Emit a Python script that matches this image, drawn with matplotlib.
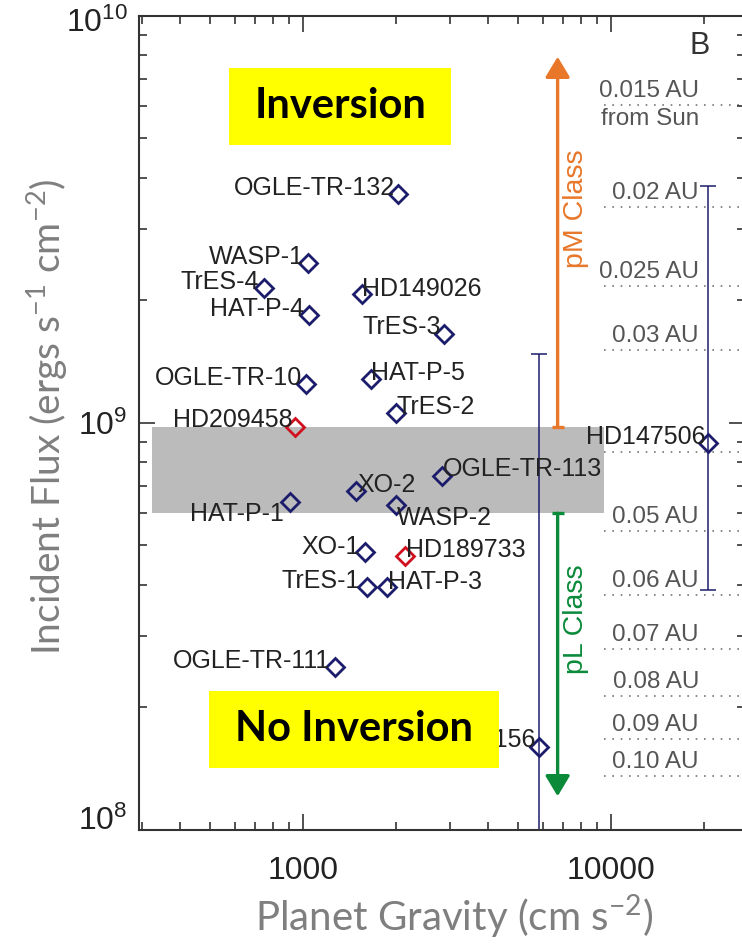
import matplotlib
matplotlib.use("Agg")
import matplotlib.pyplot as plt
import matplotlib.transforms as mtransforms
from matplotlib.patches import Rectangle, FancyArrowPatch, ArrowStyle
from matplotlib.ticker import FixedLocator, FixedFormatter, LogLocator, NullFormatter

# ---------------------------------------------------------------- data
names = ['OGLE-TR-132', 'WASP-1', 'TrES-4', 'HD149026', 'HAT-P-4', 'TrES-3',
         'OGLE-TR-10', 'HAT-P-5', 'TrES-2', 'HAT-P-1', 'XO-2', 'WASP-2',
         'OGLE-TR-113', 'XO-1', 'TrES-1', 'HAT-P-3', 'OGLE-TR-111',
         'HD17156', 'HD147506']
gravity = [2030, 1040, 745, 1560, 1050, 2860,
           1020, 1660, 2000, 910, 1490, 2010,
           2820, 1590, 1610, 1880, 1270,
           5850, 20700]
flux = [3.66e9, 2.47e9, 2.15e9, 2.08e9, 1.84e9, 1.65e9,
        1.25e9, 1.28e9, 1.06e9, 6.4e8, 6.8e8, 6.3e8,
        7.4e8, 4.83e8, 3.96e8, 3.96e8, 2.51e8,
        1.60e8, 8.95e8]

# planets highlighted in red
red_names = ['HD209458', 'HD189733']
red_gravity = [940, 2140]
red_flux = [9.76e8, 4.71e8]

# eccentric planets: flux range over the orbit
range_names = ['HD17156', 'HD147506']
range_gravity = [5850, 20700]
range_flux = [1.60e8, 8.95e8]
range_low = [8.0e7, 3.89e8]
range_high = [1.475e9, 3.83e9]

# incident flux at a given orbital distance from the Sun
au_text = ['0.015 AU', '0.02 AU', '0.025 AU', '0.03 AU', '', '0.05 AU',
           '0.06 AU', '0.07 AU', '0.08 AU', '0.09 AU', '0.10 AU']
au_flux = [6.03e9, 3.39e9, 2.17e9, 1.51e9, 8.5e8, 5.43e8,
           3.78e8, 2.78e8, 2.13e8, 1.67e8, 1.36e8]

# transition region between the classes
band_flux = [6.0e8, 9.76e8]
band_gravity = [323, 9490]

# class arrows: (flux at bar end, flux at arrow tip)
pm_flux = [9.76e8, 7.94e9]
pl_flux = [6.0e8, 1.21e8]
arrow_gravity = 6710

# ---------------------------------------------------------------- style
NAVY = '#1c1c6c'
RED = '#d0101e'
ORANGE = '#e8772a'
GREEN = '#0b8a3a'
LABEL = '#222222'
AXGRAY = '#7f7f7f'

plt.rcParams['font.family'] = ['Liberation Sans', 'DejaVu Sans']
plt.rcParams['mathtext.fontset'] = 'custom'
plt.rcParams['mathtext.rm'] = 'Liberation Sans'

# label placement: (alignment, dx px, dy px) relative to the marker centre
label_pos = {
    'OGLE-TR-132': ('right', -3, -1), 'WASP-1': ('right', -4, -1),
    'TrES-4': ('right', -5, -1), 'HD149026': ('left', 0, -2),
    'HAT-P-4': ('right', -5, -1), 'TrES-3': ('right', -3, 0),
    'OGLE-TR-10': ('right', -3, -1), 'HAT-P-5': ('left', 0, -1),
    'TrES-2': ('left', 1, -1), 'HAT-P-1': ('right', -6, -19),
    'XO-2': ('left', 1, -1), 'WASP-2': ('left', 1, -20),
    'OGLE-TR-113': ('left', 1, 0), 'XO-1': ('right', -5, -2),
    'TrES-1': ('right', -7, -1), 'HAT-P-3': ('left', 1, -2),
    'OGLE-TR-111': ('right', -5, -1), 'HD17156': ('right', -4, 0),
    'HD147506': ('right', -3, -1), 'HD209458': ('right', -2, 0),
    'HD189733': ('left', 1, -1),
}

fig = plt.figure(figsize=(7.42, 9.44), dpi=100)
ax = fig.add_axes([0.1869, 0.1208, 0.817, 0.8623])
ax.set_xscale('log')
ax.set_yscale('log')
ax.set_xlim(293, 27200)
ax.set_ylim(1e8, 1e10)

# transition band
ax.add_patch(Rectangle((band_gravity[0], band_flux[0]),
                       band_gravity[1] - band_gravity[0],
                       band_flux[1] - band_flux[0],
                       facecolor='#bbbbbb', edgecolor='none', zorder=1))

# orbital distance guide lines
for txt, f in zip(au_text, au_flux):
    ax.plot([9490, 40000], [f, f], color='#777777', lw=1.2,
            ls=(0, (1, 4)), zorder=1.5)
    if txt:
        ax.annotate(txt, (19300, f), xytext=(0, 3), textcoords='offset pixels',
                    ha='right', va='bottom', fontsize=17.5, color='#555555',
                    zorder=2)
ax.annotate('from Sun', (19300, au_flux[0]), xytext=(0, -3),
            textcoords='offset pixels', ha='right', va='top', fontsize=17.5,
            color='#555555', zorder=2)

# flux range of eccentric planets
ylo = [f - lo for f, lo in zip(range_flux, range_low)]
yhi = [hi - f for f, hi in zip(range_flux, range_high)]
ax.errorbar(range_gravity, range_flux, yerr=[ylo, yhi], fmt='none',
            ecolor=NAVY, elinewidth=1.1, capsize=6, capthick=1.1, zorder=2.5)

# planets
ax.plot(gravity, flux, ls='none', marker='D', ms=9, mfc='none',
        mec=NAVY, mew=2.0, zorder=3)
ax.plot(red_gravity, red_flux, ls='none', marker='D', ms=9, mfc='none',
        mec=RED, mew=2.0, zorder=3)

for n, g, f in list(zip(names, gravity, flux)) + list(zip(red_names, red_gravity, red_flux)):
    ha, dx, dy = label_pos[n]
    ax.annotate(n, (g, f), xytext=(dx, dy), textcoords='offset pixels',
                ha=ha, va='baseline', fontsize=18, color=LABEL, zorder=4)

# class arrows
for (f0, f1), col in ((pm_flux, ORANGE), (pl_flux, GREEN)):
    arr = FancyArrowPatch((arrow_gravity, f0), (arrow_gravity, f1),
                          arrowstyle=ArrowStyle('-|>', head_length=12.5,
                                                head_width=7.5),
                          mutation_scale=1, lw=2.4, color=col,
                          shrinkA=0, shrinkB=0, zorder=3)
    ax.add_patch(arr)
    ax.plot([arrow_gravity], [f0], marker='_', ms=9, mew=2.4, color=col,
            zorder=3)
ax.text(7690, 3.36e9, 'pM Class', rotation=90, ha='center', va='center',
        color=ORANGE, fontsize=20.5, zorder=3)
ax.text(7690, 3.29e8, 'pL Class', rotation=90, ha='center', va='center',
        color=GREEN, fontsize=20.5, zorder=3)

# regime boxes
for (x0, x1, y0, y1), txt in (((0.1495, 0.5149, 0.8415, 0.9365), 'Inversion'),
                              ((0.116, 0.595, 0.0762, 0.1708), 'No Inversion')):
    ax.add_patch(Rectangle((x0, y0), x1 - x0, y1 - y0, transform=ax.transAxes,
                           facecolor='#ffff00', edgecolor='none', zorder=5))
    ax.text((x0 + x1) / 2, (y0 + y1) / 2, txt, transform=ax.transAxes,
            ha='center', va='center', fontsize=30, fontweight='bold',
            family='Lato', color='black', zorder=6)

ax.text(0.9246, 0.963, 'B', transform=ax.transAxes, ha='center', va='center',
        fontsize=22, color='#333333', zorder=6)

# axes and ticks
ax.xaxis.set_major_locator(FixedLocator([1000, 10000]))
ax.xaxis.set_major_formatter(FixedFormatter(['1000', '10000']))
ax.xaxis.set_minor_locator(LogLocator(base=10, subs=range(2, 10), numticks=20))
ax.xaxis.set_minor_formatter(NullFormatter())
ax.yaxis.set_major_locator(FixedLocator([1e8, 1e9, 1e10]))
ax.yaxis.set_major_formatter(FixedFormatter([r'$\mathregular{10^{8}}$',
                                             r'$\mathregular{10^{9}}$',
                                             r'$\mathregular{10^{10}}$']))
ax.yaxis.set_minor_locator(LogLocator(base=10, subs=range(2, 10), numticks=20))
ax.yaxis.set_minor_formatter(NullFormatter())

ax.tick_params(which='both', direction='in', top=True, right=True,
               color='#333333', width=1.2, labelcolor='#222222')
ax.tick_params(which='major', length=11.5, labelsize=23)
ax.tick_params(which='minor', length=5.8)
ax.tick_params(axis='x', which='major', pad=18.5)
ax.tick_params(axis='y', which='major', pad=8)
for s in ax.spines.values():
    s.set_linewidth(1.5)
    s.set_color('#333333')

# nudge the end labels of the flux axis
ylabels = ax.yaxis.get_majorticklabels()
for lab, shift in zip(ylabels, (12, 0, -4)):
    lab.set_transform(lab.get_transform() +
                      mtransforms.ScaledTranslation(0, shift / 100, fig.dpi_scale_trans))

ax.set_xlabel(r'Planet Gravity (cm s$^{\mathregular{-2}}$)', family='Lato',
              fontsize=29, color=AXGRAY)
ax.xaxis.set_label_coords(0.52, -0.077)
ax.set_ylabel(r'Incident Flux (ergs s$^{\mathregular{-1}}$ cm$^{\mathregular{-2}}$)',
              family='Lato', fontsize=28, color=AXGRAY)
ax.yaxis.set_label_coords(-0.112, 0.508)

fig.savefig('out.png', dpi=100)
